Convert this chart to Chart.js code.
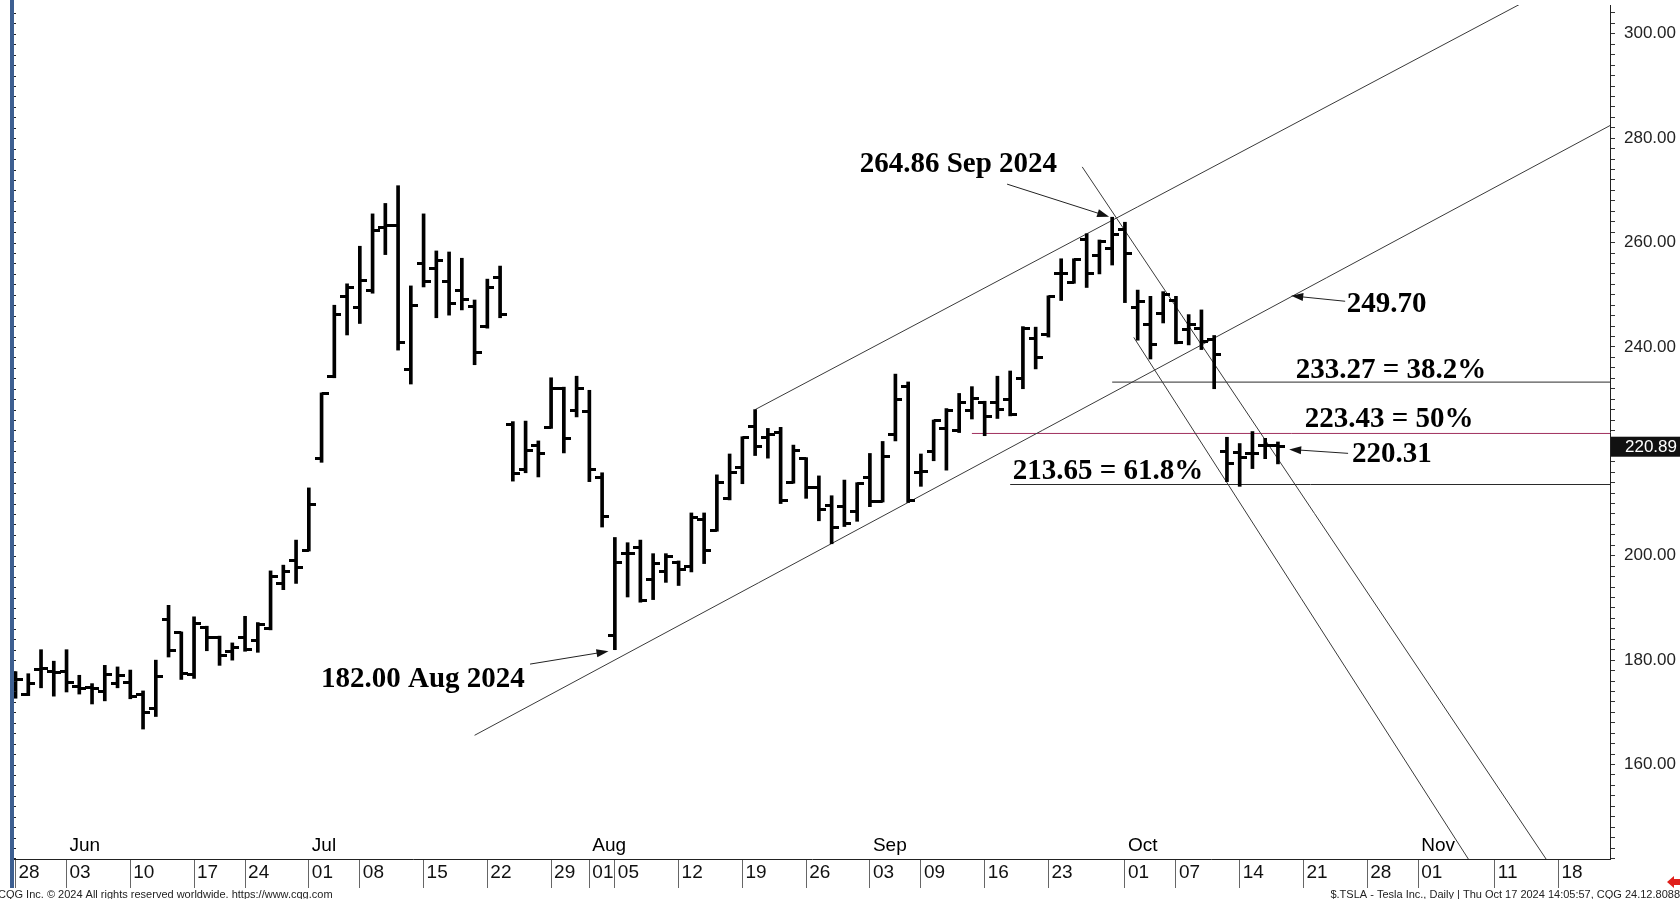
<!DOCTYPE html>
<html>
<head>
<meta charset="utf-8">
<title>TSLA daily</title>
<style>
  html, body { margin: 0; padding: 0; background: #fff; overflow: hidden; }
  #wrap { position: relative; width: 1680px; height: 899px; }
</style>
<script src="https://cdn.jsdelivr.net/npm/chart.js@4.4.1/dist/chart.umd.min.js"></script>
</head>
<body>
<div id="wrap"><canvas id="myChart" width="1680" height="899"></canvas></div>
<script>
// trading days shown (index = position on the x axis)
const days = [
  '2024-05-28', '2024-05-29', '2024-05-30', '2024-05-31',
  '2024-06-03', '2024-06-04', '2024-06-05', '2024-06-06', '2024-06-07',
  '2024-06-10', '2024-06-11', '2024-06-12', '2024-06-13', '2024-06-14',
  '2024-06-17', '2024-06-18', '2024-06-20', '2024-06-21',
  '2024-06-24', '2024-06-25', '2024-06-26', '2024-06-27', '2024-06-28',
  '2024-07-01', '2024-07-02', '2024-07-03', '2024-07-05',
  '2024-07-08', '2024-07-09', '2024-07-10', '2024-07-11', '2024-07-12',
  '2024-07-15', '2024-07-16', '2024-07-17', '2024-07-18', '2024-07-19',
  '2024-07-22', '2024-07-23', '2024-07-24', '2024-07-25', '2024-07-26',
  '2024-07-29', '2024-07-30', '2024-07-31', '2024-08-01', '2024-08-02',
  '2024-08-05', '2024-08-06', '2024-08-07', '2024-08-08', '2024-08-09',
  '2024-08-12', '2024-08-13', '2024-08-14', '2024-08-15', '2024-08-16',
  '2024-08-19', '2024-08-20', '2024-08-21', '2024-08-22', '2024-08-23',
  '2024-08-26', '2024-08-27', '2024-08-28', '2024-08-29', '2024-08-30',
  '2024-09-03', '2024-09-04', '2024-09-05', '2024-09-06',
  '2024-09-09', '2024-09-10', '2024-09-11', '2024-09-12', '2024-09-13',
  '2024-09-16', '2024-09-17', '2024-09-18', '2024-09-19', '2024-09-20',
  '2024-09-23', '2024-09-24', '2024-09-25', '2024-09-26', '2024-09-27', '2024-09-30',
  '2024-10-01', '2024-10-02', '2024-10-03', '2024-10-04',
  '2024-10-07', '2024-10-08', '2024-10-09', '2024-10-10', '2024-10-11',
  '2024-10-14', '2024-10-15', '2024-10-16', '2024-10-17'
]

const opens = [
  176.3, 173.4, 178.3, 177.9, 177.9, 174.9, 174.8, 174.0, 175.5, 175.7,
  173.5, 170.7, 187.7, 185.3, 177.3, 186.2, 184.4, 181.7, 184.4, 183.8,
  186.0, 194.7, 199.0, 201.0, 218.7, 234.4, 249.6, 247.5, 250.9, 262.8,
  263.2, 235.6, 255.9, 255.1, 252.6, 250.9, 247.7, 243.9, 253.4, 225.2,
  216.5, 221.1, 224.5, 232.1, 227.8, 227.6, 214.9, 184.8, 200.4, 201.5,
  195.5, 196.9, 198.8, 198.0, 207.0, 204.8, 210.9, 217.0, 224.7, 222.6,
  223.6, 214.0, 218.6, 213.0, 209.6, 209.4, 208.4, 215.0, 210.4, 223.2,
  232.4, 216.0, 219.9, 224.3, 224.0, 227.8, 229.3, 229.4, 230.0, 233.9,
  241.6, 242.4, 254.0, 252.4, 260.5, 257.5, 258.9, 262.6, 247.5, 244.4,
  246.5, 248.9, 243.4, 243.6, 241.4, 219.9, 219.8, 219.6, 221.2, 221.2
]
const highs = [
  177.8, 177.4, 182.0, 179.8, 182.0, 177.1, 175.5, 179.0, 178.7, 178.1,
  174.1, 180.0, 190.5, 185.4, 188.3, 186.5, 184.6, 183.3, 188.4, 187.2,
  197.1, 198.2, 203.0, 213.0, 231.2, 248.0, 252.1, 259.3, 265.5, 267.5,
  270.9, 251.7, 265.5, 258.4, 258.2, 257.0, 249.0, 253.0, 255.5, 225.7,
  225.8, 222.0, 234.1, 232.3, 234.4, 231.7, 215.9, 203.5, 202.5, 203.0,
  200.4, 200.4, 199.0, 208.2, 208.2, 215.5, 219.5, 222.8, 228.0, 224.4,
  224.6, 221.2, 218.8, 215.3, 211.5, 214.5, 214.0, 219.6, 221.9, 234.8,
  233.3, 219.5, 226.0, 228.2, 231.1, 232.4, 229.6, 234.4, 235.4, 243.9,
  243.8, 249.8, 256.9, 256.9, 261.7, 260.5, 264.86, 263.9, 250.9, 249.7,
  250.6, 249.7, 246.2, 247.1, 242.2, 222.7, 221.5, 223.8, 222.5, 221.8
]
const lows = [
  172.7, 173.2, 174.7, 173.1, 173.9, 173.5, 171.6, 172.2, 174.7, 172.6,
  166.8, 169.2, 180.6, 176.3, 176.5, 181.8, 179.0, 180.0, 181.7, 181.5,
  185.8, 193.5, 194.7, 200.9, 217.9, 234.1, 242.3, 244.5, 250.3, 257.7,
  239.4, 232.9, 251.5, 245.6, 246.1, 247.1, 236.6, 243.6, 245.6, 214.3,
  215.9, 215.1, 224.4, 219.7, 226.6, 214.2, 205.5, 182.0, 192.1, 191.1,
  191.6, 194.9, 194.3, 196.9, 198.5, 204.7, 210.7, 213.8, 219.2, 218.7,
  210.0, 213.9, 211.0, 206.7, 202.3, 205.6, 206.6, 209.4, 210.3, 222.0,
  210.2, 213.3, 218.2, 216.4, 223.6, 226.2, 223.0, 226.3, 226.8, 232.0,
  235.8, 241.9, 248.9, 252.2, 251.4, 254.0, 255.7, 248.5, 241.3, 237.7,
  244.6, 240.6, 240.4, 239.5, 232.0, 214.2, 213.3, 216.7, 218.6, 217.6
]
const closes = [
  176.2, 175.5, 178.4, 177.6, 175.8, 174.5, 174.5, 177.3, 177.0, 173.1,
  170.0, 176.8, 181.8, 177.4, 187.1, 184.4, 180.9, 182.5, 182.0, 186.9,
  196.0, 197.0, 197.8, 209.9, 231.1, 246.3, 251.3, 252.8, 262.3, 263.2,
  240.8, 248.0, 252.6, 256.5, 248.4, 249.1, 239.0, 251.3, 246.3, 215.8,
  220.1, 219.5, 232.0, 222.5, 232.0, 216.6, 207.5, 198.7, 200.4, 191.5,
  198.6, 199.8, 197.3, 207.4, 201.1, 214.1, 216.0, 222.6, 221.0, 223.2,
  210.5, 220.1, 213.0, 208.9, 205.5, 206.2, 213.9, 210.4, 219.1, 229.9,
  210.5, 216.1, 225.9, 227.8, 229.4, 230.1, 226.6, 228.0, 227.0, 243.6,
  238.0, 249.7, 254.1, 256.7, 254.1, 260.3, 261.5, 257.9, 248.8, 240.5,
  250.0, 240.8, 244.3, 241.1, 238.6, 217.6, 218.9, 219.6, 221.2, 220.89
]
const lastPrice = 220.89

// x axis: day index of each tick and its label (axis runs on past the data into Nov)
const tickIdx = [0, 4, 9, 14, 18, 23, 27, 32, 37, 42, 45, 47, 52, 57, 62, 67, 71, 76, 81, 87, 91, 96, 101, 106, 110, 116, 121]
const tickLbl = ['28', '03', '10', '17', '24', '01', '08', '15', '22', '29', '01', '05', '12', '19', '26', '03', '09', '16', '23', '01', '07', '14', '21', '28', '01', '11', '18']
const monthIdx = [4, 23, 45, 67, 87, 110]
const monthLbl = ['Jun', 'Jul', 'Aug', 'Sep', 'Oct', 'Nov']

// y axis labels
const priceLabels = [160, 180, 200, 240, 260, 280, 300]   // 220 sits under the last-price box

// drawn studies, [dayIndex, price] end points
const channelLow = [[36, 165.6], [125.1, 282.5]]
const channelHigh = [[58, 228.0], [125.1, 314.9]]
const fanA = [[83.65, 274.5], [122, 134.7]]
const fanB = [[87.69, 241.85], [118, 126.4]]
const level382 = [[86, 233.27], [125.1, 233.27]]
const level50 = [[75, 223.43], [125.1, 223.43]]
const level618 = [[78, 213.65], [125.1, 213.65]]

// text notes: [dayIndex, price, text] (left edge, vertical middle)
const notes = [
  [66.2, 274.9, '264.86 Sep 2024'],
  [23.95, 176.2, '182.00 Aug 2024'],
  [104.4, 248.2, '249.70'],
  [100.4, 235.5, '233.27 = 38.2%'],
  [101.1, 226.1, '223.43 = 50%'],
  [104.8, 219.4, '220.31'],
  [78.2, 216.2, '213.65 = 61.8%']
]
// arrows: [fromIdx, fromPrice, toIdx, toPrice]
const arrows = [
  [77.76, 271.2, 85.76, 264.95],
  [40.35, 179.24, 46.5, 181.7],
  [104.27, 248.76, 100.04, 249.81],
  [104.5, 219.62, 99.88, 220.38]
]

// little open / close tick marks used as point styles
const makeTick = (side) => {
  const c = document.createElement('canvas')
  c.width = 14
  c.height = 3
  const g = c.getContext('2d')
  g.fillStyle = '#000'
  g.fillRect(side === 'left' ? 0 : 7, 0, 7, 3)
  return c
}
const openTick = makeTick('left')
const closeTick = makeTick('right')

const toXY = (pts) => pts.map(p => ({ x: p[0], y: p[1] }))
const studyLine = (pts, color) => ({
  type: 'line',
  data: toXY(pts),
  borderColor: color,
  borderWidth: 1,
  pointRadius: 0,
  fill: false,
  order: 5
})

const overlay = {
  id: 'overlay',
  afterDraw(chart) {
    const { ctx, scales: { x, y }, chartArea } = chart
    ctx.save()

    // blue left frame with its small ticks
    ctx.fillStyle = '#3d5f91'
    ctx.fillRect(10, 0, 4, 888)
    ctx.fillStyle = '#222'
    for (let v = 142; v <= 304; v += 2) {
      const py = Math.round(y.getPixelForValue(v)) + 0.5
      ctx.fillRect(14, py - 0.5, 2, 1)
    }

    // arrows
    ctx.strokeStyle = '#222'
    ctx.fillStyle = '#111'
    ctx.lineWidth = 1
    arrows.forEach(a => {
      const x1 = x.getPixelForValue(a[0]), y1 = y.getPixelForValue(a[1])
      const x2 = x.getPixelForValue(a[2]), y2 = y.getPixelForValue(a[3])
      const ang = Math.atan2(y2 - y1, x2 - x1)
      ctx.beginPath()
      ctx.moveTo(x1, y1)
      ctx.lineTo(x2 - 8 * Math.cos(ang), y2 - 8 * Math.sin(ang))
      ctx.stroke()
      ctx.beginPath()
      ctx.moveTo(x2, y2)
      ctx.lineTo(x2 - 12 * Math.cos(ang) + 4 * Math.sin(ang), y2 - 12 * Math.sin(ang) - 4 * Math.cos(ang))
      ctx.lineTo(x2 - 12 * Math.cos(ang) - 4 * Math.sin(ang), y2 - 12 * Math.sin(ang) + 4 * Math.cos(ang))
      ctx.closePath()
      ctx.fill()
    })

    // text notes
    ctx.fillStyle = '#000'
    ctx.font = 'bold 29px "Liberation Serif", "Times New Roman", serif'
    ctx.textAlign = 'left'
    ctx.textBaseline = 'middle'
    notes.forEach(n => {
      ctx.fillText(n[2], x.getPixelForValue(n[0]), y.getPixelForValue(n[1]))
    })

    // month names just above the date axis
    ctx.font = '19px "Liberation Sans Narrow", "Arial Narrow", sans-serif'
    ctx.textBaseline = 'alphabetic'
    monthIdx.forEach((m, k) => {
      ctx.fillText(monthLbl[k], x.getPixelForValue(m) + 3, chartArea.bottom - 8)
    })

    // last price marker on the price axis
    const py = y.getPixelForValue(lastPrice)
    ctx.fillStyle = '#111'
    ctx.fillRect(chartArea.right + 1, py - 10, 80, 20)
    ctx.fillStyle = '#fff'
    ctx.font = '17px "Liberation Sans", Arial, sans-serif'
    ctx.textBaseline = 'middle'
    ctx.fillText(lastPrice.toFixed(2), chartArea.right + 15, py + 1)

    // footer
    ctx.fillStyle = '#222'
    ctx.font = '11px "Liberation Sans", Arial, sans-serif'
    ctx.textBaseline = 'alphabetic'
    ctx.fillText('CQG Inc. \u00a9 2024 All rights reserved worldwide. https://www.cqg.com', -2, 898)
    ctx.font = '11px "Liberation Sans Narrow", "Arial Narrow", sans-serif'
    ctx.textAlign = 'right'
    ctx.fillText('$.TSLA - Tesla Inc., Daily | Thu Oct 17 2024 14:05:57, CQG 24.12.8088', 1680, 898)

    // small red arrow icon
    ctx.fillStyle = '#e0201c'
    ctx.beginPath()
    ctx.moveTo(1667, 882)
    ctx.lineTo(1674, 876)
    ctx.lineTo(1674, 879)
    ctx.lineTo(1680, 879)
    ctx.lineTo(1680, 885)
    ctx.lineTo(1674, 885)
    ctx.lineTo(1674, 888)
    ctx.closePath()
    ctx.fill()

    ctx.restore()
  }
}

new Chart(document.getElementById('myChart'), {
  type: 'bar',
  data: {
    datasets: [
      {
        type: 'bar',
        label: 'High-Low',
        data: days.map((d, k) => ({ x: k, y: [lows[k], highs[k]] })),
        backgroundColor: '#000',
        borderWidth: 0,
        barThickness: 3,
        grouped: false,
        order: 1
      },
      {
        type: 'scatter',
        label: 'Open',
        data: days.map((d, k) => ({ x: k, y: opens[k] })),
        pointStyle: openTick,
        order: 0
      },
      {
        type: 'scatter',
        label: 'Close',
        data: days.map((d, k) => ({ x: k, y: closes[k] })),
        pointStyle: closeTick,
        order: 0
      },
      studyLine(channelLow, '#3a3a3a'),
      studyLine(channelHigh, '#3a3a3a'),
      studyLine(fanA, '#3a3a3a'),
      studyLine(fanB, '#3a3a3a'),
      studyLine(level382, '#2a2a2a'),
      studyLine(level50, '#a0305e'),
      studyLine(level618, '#2a2a2a')
    ]
  },
  options: {
    responsive: false,
    animation: false,
    events: [],
    layout: { padding: { left: 14, right: 0, top: 0, bottom: 0 } },
    plugins: {
      legend: { display: false },
      tooltip: { enabled: false }
    },
    scales: {
      x: {
        type: 'linear',
        min: -0.12,
        max: 125.04,
        offset: false,
        afterBuildTicks: (s) => { s.ticks = tickIdx.map(v => ({ value: v })) },
        afterFit: (s) => {
          s.height = 40
          s.paddingLeft = 0
          s.paddingRight = 0
        },
        grid: { drawOnChartArea: false, offset: false, tickLength: 29, color: '#666' },
        border: { color: '#222', width: 1 },
        ticks: {
          autoSkip: false,
          maxRotation: 0,
          align: 'start',
          labelOffset: 3,
          padding: -27,
          color: '#111',
          font: { family: '"Liberation Sans Narrow", "Arial Narrow", sans-serif', size: 19 },
          callback: (v, k) => tickLbl[k]
        }
      },
      y: {
        type: 'linear',
        position: 'right',
        min: 141.9,
        max: 305.52,
        beginAtZero: false,
        afterBuildTicks: (s) => {
          const t = []
          for (let v = 142; v <= 304; v += 2) t.push({ value: v })
          s.ticks = t
        },
        afterFit: (s) => {
          s.width = 70
          s.paddingTop = 0
          s.paddingBottom = 0
        },
        grid: { drawOnChartArea: false, tickLength: 5, color: '#333' },
        border: { color: '#222', width: 1 },
        ticks: {
          autoSkip: false,
          padding: 9,
          color: '#222',
          font: { family: '"Liberation Sans", Arial, sans-serif', size: 17 },
          callback: (v) => priceLabels.includes(v) ? v.toFixed(2) : ''
        }
      }
    }
  },
  plugins: [overlay]
})
</script>
</body>
</html>
